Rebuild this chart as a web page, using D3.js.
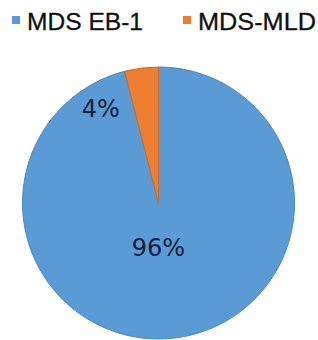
<!DOCTYPE html>
<html><head><meta charset="utf-8">
<script src="https://cdn.jsdelivr.net/npm/d3@7"></script>
<style>body{margin:0;background:#fff}svg{display:block}</style>
</head><body>
<svg id="c" width="318" height="340"></svg>
<script>
const categories = ["MDS EB-1", "MDS-MLD"];
const values = [96, 4];
const labels = ["96%", "4%"];
const colors = ["#5B9BD5", "#ED7D31"];

const svg = d3.select("#c");
const cx = 158.5, cy = 203, R = 136;

const pie = d3.pie().sort(null).value(d => d)(values);
const arc = d3.arc().innerRadius(0).outerRadius(R);
const g = svg.append("g").attr("transform", `translate(${cx},${cy})`);
g.selectAll("path").data(pie).join("path")
  .attr("d", arc)
  .attr("fill", (d, i) => colors[i])
  .attr("stroke", (d, i) => d3.color(colors[i]).darker(0.4))
  .attr("stroke-width", 1);

// label placement (best-fit style): angle & radius fraction per slice
const labelPos = [{a: Math.PI, r: 0.33}, {a: -31.6 * Math.PI / 180, r: 0.81}];
g.selectAll("text.lbl").data(pie).join("text")
  .attr("class", "lbl")
  .attr("x", (d, i) => d3.pointRadial(labelPos[i].a, labelPos[i].r * R)[0])
  .attr("y", (d, i) => d3.pointRadial(labelPos[i].a, labelPos[i].r * R)[1])
  .attr("text-anchor", "middle")
  .attr("dominant-baseline", "central")
  .attr("font-family", "'DejaVu Sans', sans-serif")
  .attr("font-size", 24)
  .attr("fill", "#14203a")
  .text((d, i) => labels[i]);

// legend
const legendX = [12, 183];
const legendW = [116, 118];
const lg = svg.append("g");
categories.forEach((c, i) => {
  lg.append("rect").attr("x", legendX[i]).attr("y", 16).attr("width", 8).attr("height", 8)
    .attr("fill", colors[i]);
  lg.append("text").attr("x", legendX[i] + 15).attr("y", 30)
    .attr("font-family", "'Liberation Sans', Arial, sans-serif")
    .attr("font-size", 24)
    .attr("textLength", legendW[i])
    .attr("lengthAdjust", "spacingAndGlyphs")
    .attr("fill", "#111")
    .attr("stroke", "#111").attr("stroke-width", 0.3)
    .text(c);
});
</script>
</body></html>
